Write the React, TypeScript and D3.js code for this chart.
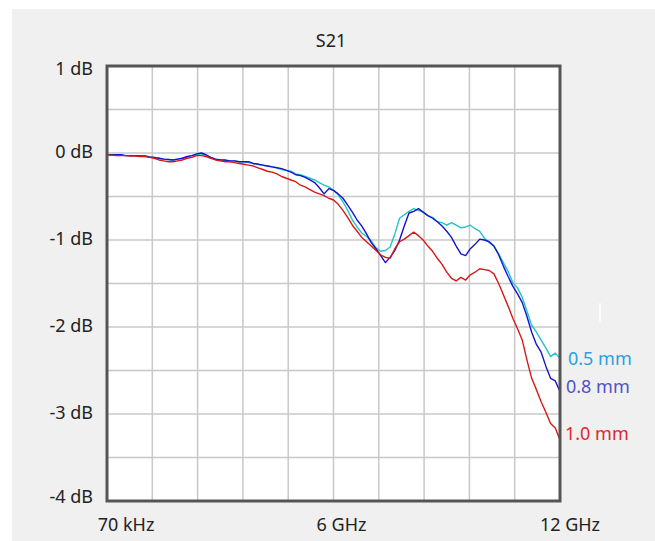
import React from "react";
import * as d3 from "d3";

// frequency in GHz (first point is 70 kHz)
const freqs = [
  0.00007, 0.125, 0.25, 0.375, 0.5, 0.625, 0.75, 0.875, 1, 1.125, 1.25, 1.375,
  1.5, 1.625, 1.75, 1.875, 2, 2.125, 2.25, 2.375, 2.5, 2.625, 2.75, 2.875, 3,
  3.125, 3.25, 3.375, 3.5, 3.625, 3.75, 3.875, 4, 4.125, 4.25, 4.375, 4.5,
  4.625, 4.75, 4.875, 5, 5.125, 5.25, 5.375, 5.5, 5.625, 5.75, 5.875, 6,
  6.125, 6.25, 6.375, 6.5, 6.625, 6.75, 6.875, 7, 7.125, 7.25, 7.375, 7.5,
  7.625, 7.75, 7.875, 8, 8.125, 8.25, 8.375, 8.5, 8.625, 8.75, 8.875, 9,
  9.125, 9.25, 9.375, 9.5, 9.625, 9.75, 9.875, 10, 10.125, 10.25, 10.375,
  10.5, 10.625, 10.75, 10.875, 11, 11.125, 11.25, 11.375, 11.5, 11.625, 11.75,
  11.875, 12,
];

// S21 in dB
const s21_05 = [
  -0.02, -0.02, -0.02, -0.025, -0.03, -0.03, -0.03, -0.035, -0.035, -0.045,
  -0.05, -0.06, -0.07, -0.075, -0.08, -0.07, -0.06, -0.05, -0.03, -0.02, -0.01,
  -0.03, -0.05, -0.07, -0.08, -0.085, -0.09, -0.09, -0.1, -0.1, -0.11, -0.12,
  -0.13, -0.14, -0.15, -0.16, -0.17, -0.19, -0.2, -0.21, -0.24, -0.25, -0.27,
  -0.29, -0.31, -0.34, -0.37, -0.39, -0.43, -0.48, -0.56, -0.66, -0.77, -0.85,
  -0.92, -0.96, -1.01, -1.09, -1.13, -1.12, -1.08, -0.93, -0.75, -0.71, -0.67,
  -0.64, -0.66, -0.68, -0.72, -0.74, -0.79, -0.8, -0.83, -0.8, -0.83, -0.86,
  -0.85, -0.83, -0.87, -0.9, -0.98, -1.03, -1.07, -1.16, -1.26, -1.36, -1.49,
  -1.55, -1.66, -1.82, -1.98, -2.06, -2.15, -2.24, -2.34, -2.3, -2.36,
];

const s21_08 = [
  -0.02, -0.02, -0.02, -0.02, -0.03, -0.03, -0.03, -0.035, -0.035, -0.045,
  -0.05, -0.06, -0.07, -0.075, -0.08, -0.07, -0.06, -0.04, -0.03, -0.01, 0.0,
  -0.02, -0.05, -0.07, -0.08, -0.08, -0.09, -0.09, -0.1, -0.1, -0.1, -0.12,
  -0.13, -0.14, -0.15, -0.16, -0.17, -0.18, -0.2, -0.22, -0.25, -0.26, -0.28,
  -0.31, -0.34, -0.4, -0.47, -0.41, -0.43, -0.47, -0.52, -0.6, -0.68, -0.77,
  -0.84, -0.93, -1.03, -1.1, -1.18, -1.26, -1.2, -1.12, -1.0, -0.84, -0.69,
  -0.67, -0.64, -0.68, -0.72, -0.75, -0.79, -0.84, -0.9, -0.97, -1.07, -1.16,
  -1.18, -1.1, -1.05, -0.99, -1.0, -1.02, -1.07, -1.17, -1.3, -1.42, -1.53,
  -1.62, -1.72, -1.88, -2.06, -2.2, -2.29, -2.45, -2.59, -2.62, -2.74,
];

const s21_10 = [
  -0.02, -0.025, -0.03, -0.03, -0.03, -0.035, -0.035, -0.04, -0.04, -0.05,
  -0.06, -0.08, -0.09, -0.1, -0.1, -0.09, -0.08, -0.06, -0.05, -0.03, -0.03,
  -0.04, -0.06, -0.08, -0.09, -0.1, -0.1, -0.11, -0.12, -0.13, -0.14, -0.15,
  -0.17, -0.19, -0.21, -0.22, -0.24, -0.27, -0.29, -0.31, -0.33, -0.37, -0.39,
  -0.42, -0.45, -0.47, -0.49, -0.52, -0.54, -0.59, -0.66, -0.74, -0.83, -0.9,
  -0.97, -1.02, -1.07, -1.12, -1.17, -1.2, -1.21, -1.1, -1.02, -0.99, -0.95,
  -0.91, -0.95, -1.0, -1.07, -1.13, -1.21, -1.28, -1.37, -1.44, -1.47, -1.43,
  -1.46, -1.4, -1.37, -1.33, -1.34, -1.35, -1.39, -1.5, -1.63, -1.76, -1.9,
  -2.02, -2.15, -2.38, -2.59, -2.72, -2.86, -2.98, -3.11, -3.16, -3.3,
];

const series = [
  { name: "0.5 mm", values: s21_05, line: "#22c4c8", text: "#2a9fe0" },
  { name: "0.8 mm", values: s21_08, line: "#1414cc", text: "#5252c8" },
  { name: "1.0 mm", values: s21_10, line: "#d81818", text: "#e0282c" },
];

const yTicks = [1, 0, -1, -2, -3, -4];
const xTickLabels = [
  { f: 0.00007, label: "70 kHz" },
  { f: 6, label: "6 GHz" },
  { f: 12, label: "12 GHz" },
];

const W = 655;
const H = 541;
const plot = { left: 107, right: 560, top: 66, bottom: 501 };
const font = "'Noto Sans', 'DejaVu Sans', sans-serif";

export default function App() {
  const x = d3.scaleLinear().domain([0.00007, 12]).range([plot.left, plot.right]);
  const y = d3.scaleLinear().domain([-4, 1]).range([plot.bottom, plot.top]);

  const line = d3
    .line<number>()
    .x((_, i) => x(freqs[i]))
    .y((d) => y(d));

  const xGrid = d3.range(1, 10).map((i) => 0.00007 + (i * (12 - 0.00007)) / 10);
  const yGrid = d3.range(-3.5, 1, 0.5);

  // label nudges
  const xLabelDx = [19, 8, 10];
  const yLabelDy = [9, 5, 5, 5, 5, 2];
  const endLabelBase = [365, 393, 440];

  return (
    <svg
      width={W}
      height={H}
      style={{ position: "absolute", left: 0, top: 0, display: "block" }}
      fontFamily={font}
    >
      <rect x={0} y={0} width={W} height={H} fill="#fff" />
      <rect x={12} y={9} width={W - 12} height={H - 9} fill="#f0f0f0" />
      <rect
        x={plot.left}
        y={plot.top}
        width={plot.right - plot.left}
        height={plot.bottom - plot.top}
        fill="#fff"
      />
      {xGrid.map((g, i) => (
        <line
          key={"xg" + i}
          x1={x(g)}
          x2={x(g)}
          y1={plot.top}
          y2={plot.bottom}
          stroke="#c8c8c8"
          strokeWidth={1.5}
        />
      ))}
      {yGrid.map((g, i) => (
        <line
          key={"yg" + i}
          x1={plot.left}
          x2={plot.right}
          y1={y(g)}
          y2={y(g)}
          stroke="#c8c8c8"
          strokeWidth={1.5}
        />
      ))}
      {series.map((s) => (
        <path
          key={s.name}
          d={line(s.values) || ""}
          fill="none"
          stroke={s.line}
          strokeWidth={1.4}
          strokeLinejoin="round"
        />
      ))}
      <rect
        x={plot.left}
        y={plot.top}
        width={plot.right - plot.left}
        height={plot.bottom - plot.top}
        fill="none"
        stroke="#555"
        strokeWidth={3}
      />
      <text x={331} y={47} textAnchor="middle" fontSize={18} fill="#222">
        S21
      </text>
      {yTicks.map((t, i) => (
        <text
          key={"yt" + t}
          x={93}
          y={y(t) + yLabelDy[i]}
          textAnchor="end"
          fontSize={18}
          fill="#222"
        >
          {t} dB
        </text>
      ))}
      {xTickLabels.map((t, i) => (
        <text
          key={t.label}
          x={x(t.f) + xLabelDx[i]}
          y={531}
          textAnchor="middle"
          fontSize={18}
          fill="#222"
        >
          {t.label}
        </text>
      ))}
      {series.map((s, i) => (
        <text
          key={"lab" + s.name}
          x={566 + (i === 0 ? 2 : i === 2 ? -1 : 0)}
          y={endLabelBase[i]}
          fontSize={18}
          fill={s.text}
        >
          {s.name}
        </text>
      ))}
      <line x1={600} x2={600} y1={303} y2={322} stroke="#fff" strokeWidth={1.5} />
    </svg>
  );
}
